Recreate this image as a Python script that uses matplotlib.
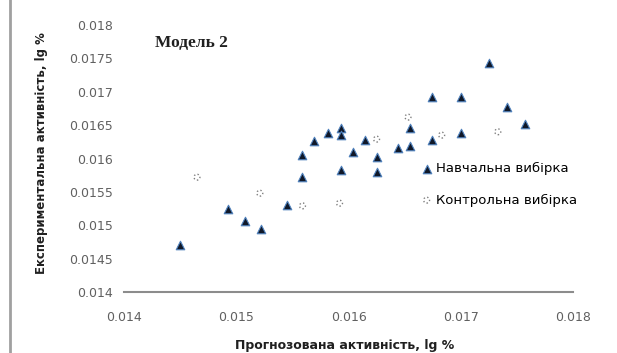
import matplotlib
matplotlib.use('Agg')
import matplotlib.pyplot as plt
from matplotlib.lines import Line2D

plt.rcParams['font.family'] = ['DejaVu Sans']

# Навчальна вибірка
train_x = [0.01450, 0.01493, 0.01508, 0.01522, 0.01545, 0.01559, 0.01559, 0.01569,
           0.01582, 0.01593, 0.01593, 0.01593, 0.01604, 0.01615, 0.01625, 0.01625,
           0.01644, 0.01655, 0.01655, 0.01674, 0.01674, 0.01700, 0.01700, 0.01725,
           0.01741, 0.01757]
train_y = [0.01470, 0.01524, 0.01506, 0.01494, 0.01530, 0.01572, 0.01605, 0.01626,
           0.01638, 0.01646, 0.01635, 0.01583, 0.01610, 0.01628, 0.01602, 0.01580,
           0.01616, 0.01619, 0.01646, 0.01628, 0.01692, 0.01692, 0.01638, 0.01743,
           0.01677, 0.01652]

# Контрольна вибірка
test_x = [0.01465, 0.01521, 0.01559, 0.01592, 0.01625, 0.01653, 0.01683, 0.01733]
test_y = [0.01572, 0.01548, 0.01529, 0.01533, 0.01629, 0.01662, 0.01635, 0.01640]

x_ticks = [0.014, 0.015, 0.016, 0.017, 0.018]
x_labels = ['0.014', '0.015', '0.016', '0.017', '0.018']
y_ticks = [0.014, 0.0145, 0.015, 0.0155, 0.016, 0.0165, 0.017, 0.0175, 0.018]
y_labels = ['0.014', '0.0145', '0.015', '0.0155', '0.016', '0.0165', '0.017', '0.0175', '0.018']

fig = plt.figure(figsize=(6.17, 3.53), dpi=100)
ax = fig.add_axes([124 / 617, 1 - 292 / 353, (573 - 124) / 617, (292 - 25) / 353])

ax.scatter(train_x, train_y, marker='^', s=38, facecolor='#101828',
           edgecolor='#4f81bd', linewidths=0.8, label='Навчальна вибірка', zorder=3)
ax.scatter(test_x, test_y, marker='o', s=18, facecolor='white',
           edgecolor='#7f7f7f', linewidths=1.0, linestyle=':', label='Контрольна вибірка', zorder=3)

ax.set_xlim(0.014, 0.018)
ax.set_ylim(0.014, 0.018)
ax.set_xticks(x_ticks)
ax.set_xticklabels(x_labels)
ax.set_yticks(y_ticks)
ax.set_yticklabels(y_labels)
ax.tick_params(axis='both', length=0, labelsize=9, labelcolor='#606060')
ax.tick_params(axis='x', pad=14)
ax.tick_params(axis='y', pad=8)

for side in ['top', 'right', 'left']:
    ax.spines[side].set_visible(False)
ax.spines['bottom'].set_color('#8c8c8c')
ax.spines['bottom'].set_linewidth(1.5)

fig.text(345 / 617, 1 - 345 / 353, 'Прогнозована активність, lg %', fontsize=9,
         fontweight='bold', color='#202020', ha='center', va='center')
fig.text(42 / 617, 1 - 153 / 353, 'Експериментальна активність, lg %', fontsize=8.5,
         fontweight='bold', color='#202020', ha='center', va='center', rotation=90)

fig.text(155 / 617, 1 - 43 / 353, 'Модель 2', fontsize=12.5, family='Liberation Serif',
         fontweight='bold', va='center', ha='left', color='#202020')

ax.legend(loc='upper left', bbox_to_anchor=(420 / 617, 1 - 162 / 353),
          bbox_transform=fig.transFigure, frameon=False, fontsize=9.5,
          labelspacing=1.4, handletextpad=0.2, handlelength=1.0,
          borderaxespad=0, borderpad=0)

# chart area border on the left
fig.add_artist(Line2D([10 / 617, 10 / 617], [0, 1], color='#a0a0a0', lw=2,
                      transform=fig.transFigure))

fig.savefig('out.png', dpi=100)
